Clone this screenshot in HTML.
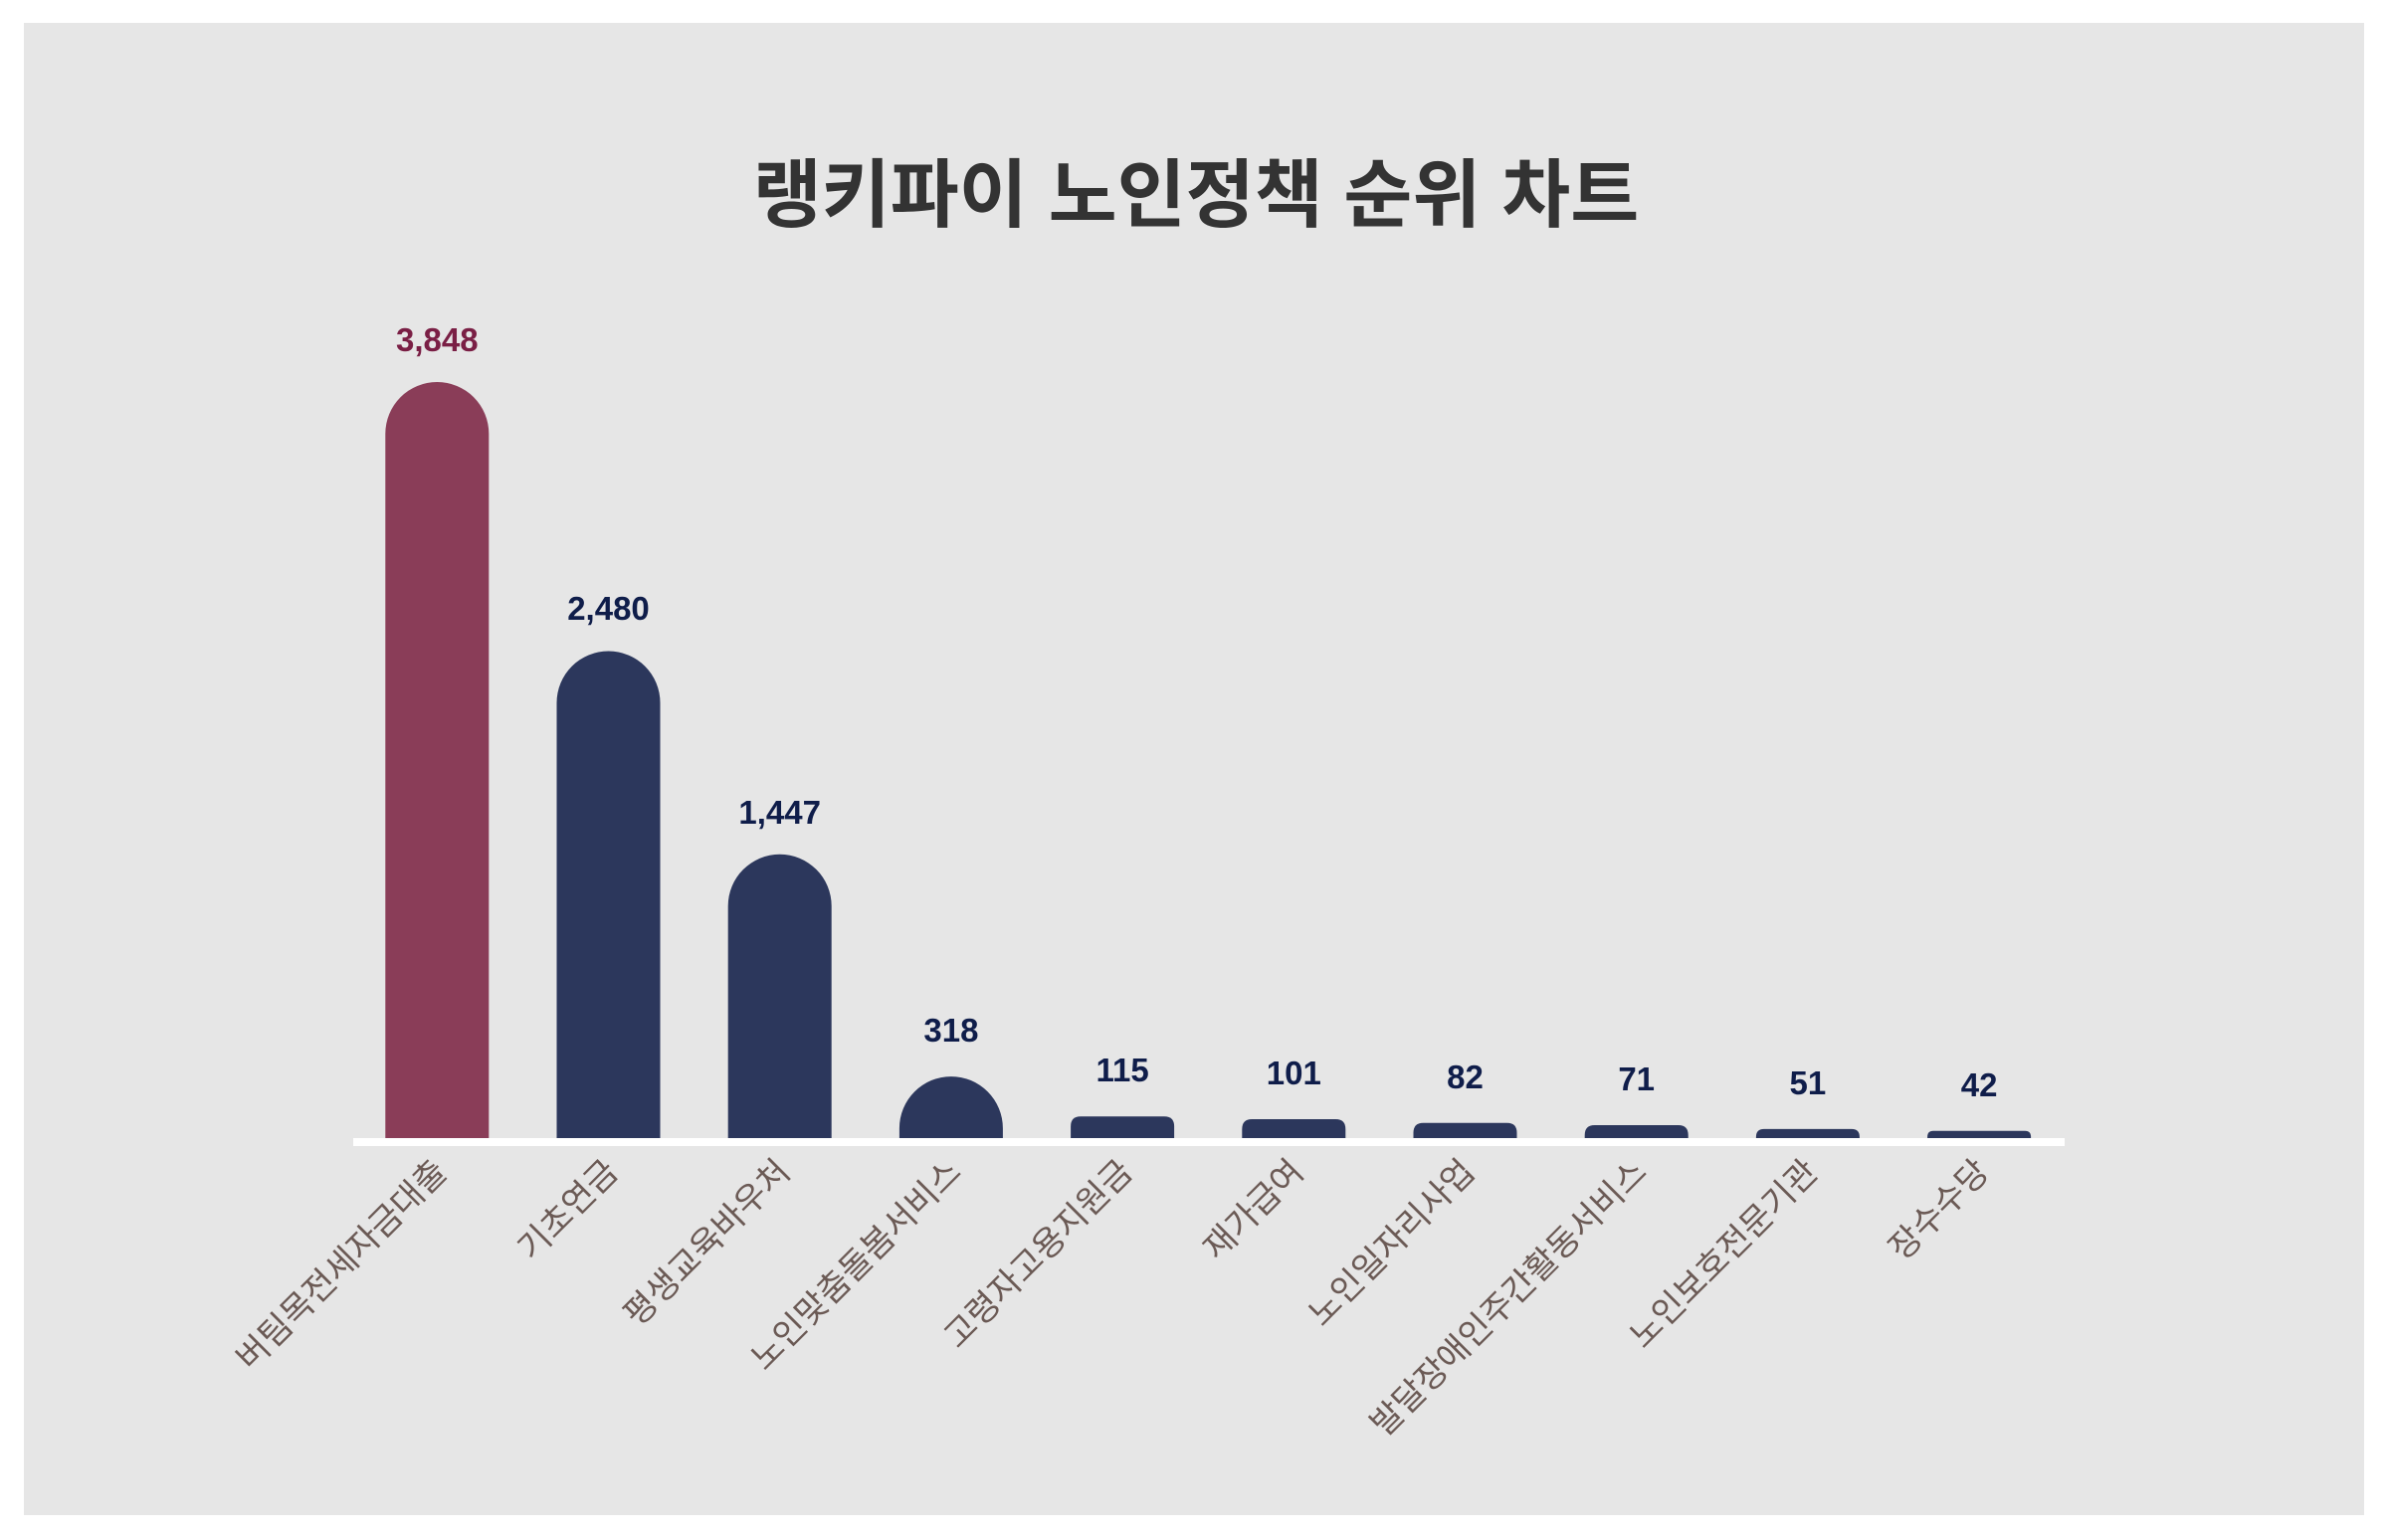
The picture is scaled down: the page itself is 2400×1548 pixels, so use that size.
<!DOCTYPE html>
<html><head><meta charset="utf-8"><style>
html,body{margin:0;padding:0;background:#fff;}
svg{display:block;}
</style></head><body>
<svg width="2400" height="1548" viewBox="0 0 2400 1548" xmlns="http://www.w3.org/2000/svg">
<rect x="0" y="0" width="2400" height="1548" fill="#ffffff"/>
<rect x="24" y="23" width="2352" height="1500" fill="#e6e6e6"/>
<text x="1202" y="222" text-anchor="middle" font-family="'Liberation Sans','Noto Sans CJK KR',sans-serif" font-weight="bold" font-size="75" fill="#333333">랭키파이 노인정책 순위 차트</text>
<g fill="#2c375c">
<path d="M387.3,1145 L387.3,436 A52,52 0 0 1 491.3,436 L491.3,1145 Z" fill="#8a3d58"/>
<path d="M559.5,1145 L559.5,706.5 A52,52 0 0 1 663.5,706.5 L663.5,1145 Z"/>
<path d="M731.7,1145 L731.7,910.8 A52,52 0 0 1 835.7,910.8 L835.7,1145 Z"/>
<path d="M903.9,1145 L903.9,1134.1 A52,52 0 0 1 1007.9,1134.1 L1007.9,1145 Z"/>
<path d="M1076.1,1145 V1132.3 Q1076.1,1122.3 1086.1,1122.3 H1170.1 Q1180.1,1122.3 1180.1,1132.3 V1145 Z"/>
<path d="M1248.3,1145 V1135 Q1248.3,1125 1258.3,1125 H1342.3 Q1352.3,1125 1352.3,1135 V1145 Z"/>
<path d="M1420.5,1145 V1138.8 Q1420.5,1128.8 1430.5,1128.8 H1514.5 Q1524.5,1128.8 1524.5,1138.8 V1145 Z"/>
<path d="M1592.7,1145 V1141 Q1592.7,1131 1602.7,1131 H1686.7 Q1696.7,1131 1696.7,1141 V1145 Z"/>
<path d="M1764.9,1145 V1142.9 Q1764.9,1134.9 1772.9,1134.9 H1860.9 Q1868.9,1134.9 1868.9,1142.9 V1145 Z"/>
<path d="M1937.1,1145 V1142.7 Q1937.1,1136.7 1943.1,1136.7 H2035.1 Q2041.1,1136.7 2041.1,1142.7 V1145 Z"/>
</g>
<rect x="355" y="1144" width="1720" height="8" fill="#ffffff"/>
<g font-family="'Liberation Sans',sans-serif" font-weight="bold" font-size="33" text-anchor="middle" fill="#0f1d4a">
<text x="439.3" y="353" fill="#7a1f45">3,848</text>
<text x="611.5" y="623">2,480</text>
<text x="783.7" y="828">1,447</text>
<text x="955.9" y="1047">318</text>
<text x="1128.1" y="1087">115</text>
<text x="1300.3" y="1090">101</text>
<text x="1472.5" y="1094">82</text>
<text x="1644.7" y="1096">71</text>
<text x="1816.9" y="1100">51</text>
<text x="1989.1" y="1102">42</text>
</g>
<g font-family="'Liberation Sans','Noto Sans CJK KR',sans-serif" font-size="34" text-anchor="end" fill="#6b5a55">
<text x="451" y="1180" transform="rotate(-45 451 1180)">버팀목전세자금대출</text>
<text x="623" y="1180" transform="rotate(-45 623 1180)">기초연금</text>
<text x="796" y="1180" transform="rotate(-45 796 1180)">평생교육바우처</text>
<text x="968" y="1180" transform="rotate(-45 968 1180)">노인맞춤돌봄서비스</text>
<text x="1140" y="1180" transform="rotate(-45 1140 1180)">고령자고용지원금</text>
<text x="1312" y="1180" transform="rotate(-45 1312 1180)">재가급여</text>
<text x="1484" y="1180" transform="rotate(-45 1484 1180)">노인일자리사업</text>
<text x="1657" y="1180" transform="rotate(-45 1657 1180)">발달장애인주간활동서비스</text>
<text x="1829" y="1180" transform="rotate(-45 1829 1180)">노인보호전문기관</text>
<text x="2001" y="1180" transform="rotate(-45 2001 1180)">장수수당</text>
</g>
</svg>
</body></html>
